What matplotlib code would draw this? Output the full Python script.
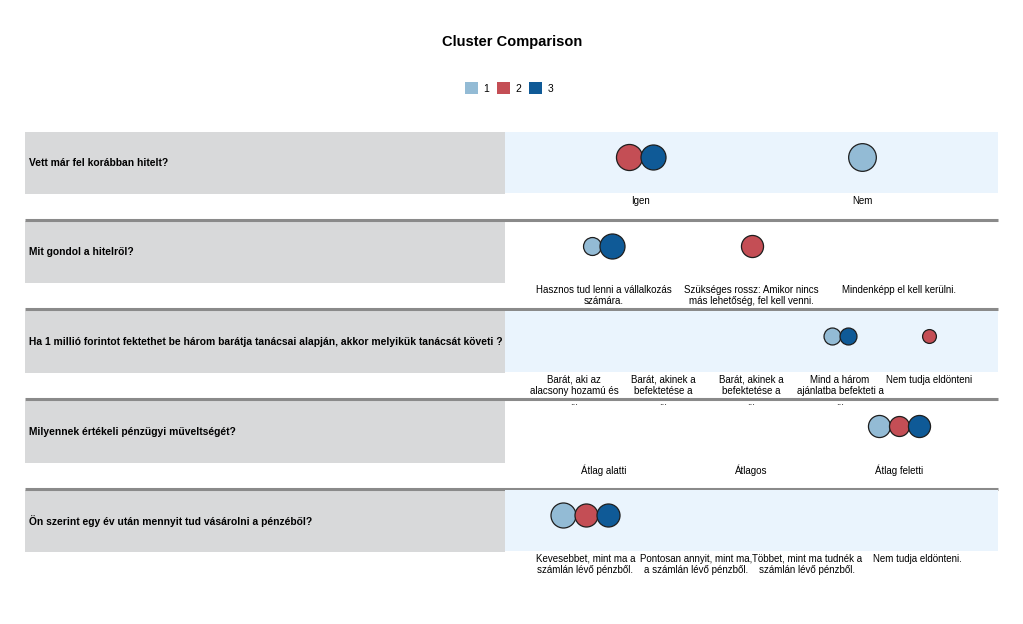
import numpy as np
import matplotlib
matplotlib.use('Agg')
import matplotlib.pyplot as plt
from matplotlib.patches import Rectangle, Patch

plt.rcParams['font.family'] = ['Liberation Sans', 'DejaVu Sans']

# data
clusters = ['1', '2', '3']
colors = ['#93BBD5', '#C44E55', '#0F5A97']

questions = [
    'Vett már fel korábban hitelt?',
    'Mit gondol a hitelről?',
    'Ha 1 millió forintot fektethet be három barátja tanácsai alapján, akkor melyikük tanácsát követi ?',
    'Milyennek értékeli pénzügyi műveltségét?',
    'Ön szerint egy év után mennyit tud vásárolni a pénzéből?',
]
categories = [
    ['Igen', 'Nem'],
    ['Hasznos tud lenni a vállalkozás\nszámára.',
     'Szükséges rossz: Amikor nincs\nmás lehetőség, fel kell venni.',
     'Mindenképp el kell kerülni.'],
    ['Barát, aki az\nalacsony hozamú és\n...',
     'Barát, akinek a\nbefektetése a\n...',
     'Barát, akinek a\nbefektetése a\n...',
     'Mind a három\najánlatba befekteti a\n...',
     'Nem tudja eldönteni'],
    ['Átlag alatti', 'Átlagos', 'Átlag feletti'],
    ['Kevesebbet, mint ma a\nszámlán lévő pénzből.',
     'Pontosan annyit, mint ma,\na számlán lévő pénzből.',
     'Többet, mint ma tudnék a\nszámlán lévő pénzből.',
     'Nem tudja eldönteni.'],
]
# modal category index per cluster (1, 2, 3) and its percentage
modal_cat = [[1, 0, 0], [0, 1, 0], [3, 4, 3], [2, 2, 2], [0, 0, 0]]
modal_pct = [[88, 78, 72], [37, 56, 72], [33, 22, 33], [56, 46, 56], [72, 61, 61]]

W, H = 1023, 624
fig = plt.figure(figsize=(W / 100, H / 100), dpi=100)
bg = fig.add_axes([0, 0, 1, 1])
bg.set_xlim(0, W)
bg.set_ylim(H, 0)
bg.axis('off')

bg.text(512, 42, 'Cluster Comparison', ha='center', va='center', fontsize=10.5, fontweight='bold')
handles = [Patch(facecolor=c, edgecolor='none') for c in colors]
fig.legend(handles, clusters, loc='center', bbox_to_anchor=(509 / W, 1 - 88 / H), ncol=3,
           frameon=False, fontsize=7.5, handlelength=1.25, handleheight=1.25,
           handletextpad=0.5, columnspacing=0.75)

panel_top = [132, 221, 311, 401, 490]
box_h = 62
span = 443  # px covered by the categories
pad = 25 / span
px2pt = 0.72

for k, q in enumerate(questions):
    top = panel_top[k]
    bg.add_patch(Rectangle((25, top), 480, box_h, facecolor='#D8D9DA', edgecolor='none'))
    bg.text(29, top + box_h / 2, q, ha='left', va='center', fontsize=7.4, fontweight='bold')
    if k < len(questions) - 1:
        bg.plot([25, 998], [top + 87.5, top + 87.5], color='#8a8a8a', lw=2.2, solid_capstyle='butt')

    ax = fig.add_axes([505 / W, 1 - (top + 61) / H, 493 / W, 61 / H])
    ax.set_facecolor('#EAF4FD' if k % 2 == 0 else 'none')
    for s in ax.spines.values():
        s.set_visible(False)
    ax.set_xlim(-pad, 1 + pad)
    ax.set_ylim(0, 1)
    n = len(categories[k])
    centers = (np.arange(n) + 0.5) / n
    ax.set_xticks(centers)
    ax.set_xticklabels(categories[k], fontsize=7)
    ax.set_yticks([])
    ax.tick_params(axis='x', length=0, pad=2)
    for lbl in ax.get_xticklabels():
        lbl.set_linespacing(1.12)

    for ci in range(n):
        members = [j for j in range(3) if modal_cat[k][j] == ci]
        if not members:
            continue
        diam = np.array([2.95 * np.sqrt(modal_pct[k][j]) for j in members])  # px
        steps = (diam[:-1] + diam[1:]) / 2 - 1
        xs = np.concatenate([[0], np.cumsum(steps)])
        left = xs[0] - diam[0] / 2
        right = xs[-1] + diam[-1] / 2
        xs = xs - (left + right) / 2
        for j, xo, d in zip(members, xs, diam):
            ax.scatter(centers[ci] + xo / span, 0.585, s=(d * px2pt) ** 2, color=colors[j],
                       edgecolor='#1e1e1e', linewidth=0.9, zorder=3)

fig.savefig('out.png', dpi=100)
